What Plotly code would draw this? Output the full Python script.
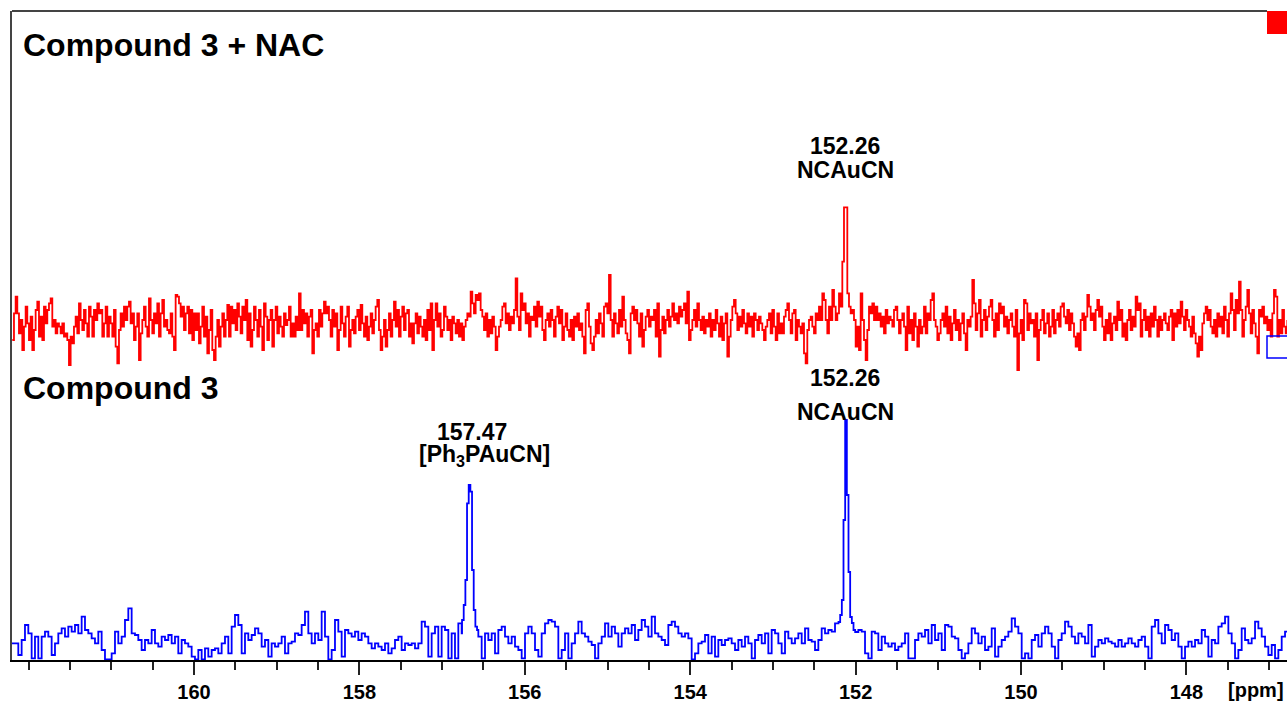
import numpy as np
import plotly.graph_objects as go

# ---------------- data (intensities in arbitrary units) ----------------
# spectrum digital resolution (ppm per point)
fine_step = 0.020153
coarse_step = 0.040306

# Compound 3 (blue) - noise segments and the two signals
blue_a_start = 162.205
blue_a = [50,50,15,60,105,80,5,70,5,70, 85,70,15,50,80,95,70,100,85,105,
          80,130,90,80,65,50,85,30,2,2, 20,85,50,70,120,155,80,75,60,30,
          60,50,90,50,40,70,60,75,50,70, 20,60,50,40,10,2,30,2,35,10,
          30,35,20,50,70,20,100,135,105,20, 80,60,75,95,80,40,60,10,50,40,
          50,70,20,50,55,80,75,105,145,80, 50,80,60,145,70,2,30,120,85,10,
          90,80,70,85,60,80,70,50,35,50, 40,30,50,20,35,60,70,30,50,45,
          50,35,50,115,100,10,
          80,100,10,100,90,5,80,5,110,80]
blue_p1_start = 156.759
blue_p1 = [120,165,240,470,525,505,270,150,100,90]
blue_b_start = 156.562
blue_b = [70,5,80,60,80,20,90,100,70,50, 70,40,30,5,80,100,80,30,10,80,
          110,120,115,100,5,30,80,5,50,80, 115,80,70,55,45,5,50,70,110,70,
          100,80,40,80,95,80,105,60,90,120, 100,70,130,80,70,60,45,105,115,100,
          80,70,80,65,2,20,50,55,75,20, 70,10,60,45,60,65,50,30,60,40,
          70,50,5,60,75,50,80,20,90,80, 50,20,85,65,50,65,80,50,95,60,
          55,30,60,95,80,90,85,110]
blue_p2_start = 152.207
blue_p2 = [114,135,180,420,720,495,264,129,111,90,84]
blue_c_start = 151.967
blue_c = [90,
          85,20,5,85,80,30,70,50,40,50, 30,40,50,80,5,5,60,80,70,90,
          50,105,60,80,30,105,100,70,65,30, 5,20,50,95,80,50,70,30,40,95,
          10,40,60,70,85,125,100,80,5,20, 5,60,75,40,80,100,80,40,5,60,
          80,115,100,70,50,80,70,50,105,10, 40,60,50,65,55,50,40,60,40,50,
          65,50,40,60,70,40,5,100,120,80, 50,105,90,60,80,40,5,40,55,40,
          60,50,90,70,10,60,50,100,110,130, 80,50,5,30,95,60,50,65,115,95,
          70,40,15,45,5,30,70,85,80]

# Compound 3 + NAC (red)
red_start = 162.197
red_a = [90,170,220,170,110,150,60,130,190,140, 90,160,60,120,180,205,100,160,90,190,
         140,180,200,215,130,150,110,140,130,110, 140,100,110,90,
         15,100,80,130,160,110,200,150,120,180, 140,100,190,160,100,180,150,200,170,180,
         100,140,190,100,160,140,100,180,70,20, 120,170,130,190,150,190,205,140,170,90,
         130,170,30,110,150,190,130,100,215,150, 110,170,140,200,100,170,210,130,150,120,
         110,170,100,60,225,220,200,160,190,120, 170,190,110,180,90,170,120,170,80,130,
         190,100,160,50,120,180,60,30,100,150, 70,130,170,100,150,195,100,190,140,180,
         120,200,160,110,190,150,210,90,170,70, 120,190,150,100,180,130,60,200,160,90,
         150,180,70,150,190,110,160,130,100,170, 135,150,190,100,140,100,160,120,230,120,
         180,140,170,100,160,180,50,120,140,100, 180,130,170,205,170,190,150,100,180,130,
         170,60,120,190,140,100,160,190,70,120, 150,110,160,180,120,195,140,100,160,90,
         130,170,110,150,190,210,120,60,100,150, 70,120,170,100,150,205,130,180,100,160,
         190,120,170,180,100,140,80,140,170,110, 160,130,100,150,90,180,120]
red_b = [200,60,150,200,130,170,100,120,190,160, 120,150,90,160,140,110,150,100,140,90,
         130,150,170,160,235,200,170,225,210,230, 180,160,120,170,100,150,110,160,130,60,
         100,130,150,190,200,140,170,120,160,140, 180,275,160,120,230,180,200,140,170,100,
         160,150,190,130,205,160,190,120,90,150, 170,130,180,150,100,160,190,140,180,90,
         130,170,120,100,150,90,160,130,170,120, 140,100,50,180,200,130,80,60,100,150,
         110,170,140,100,190,200,170,285,150,100, 170,140,110,180,130,220,150,110,90,50,
         170,190,150,180,140,100,170,70,120,160, 180,130,160,150,180,100,200,40,120,160,
         110,150,180,130,160,200,150,170,140,190, 160,180,200,140,235,90,120,150,180,130,
         200,150,120,160,110,150,130,170,100,150, 120,180,140,100,160,90,140,170,40,100,
         150,190,210,170,120,160,130,180,140,110, 170,130,160,100,170,150,120,160,140]
red_c = [120,90,130,150,170,110,180,130,90,170, 110,140,110,160,180,200,150,110,170,180,
         90,150,130,110,140,50,20,120,150,160, 130,110,170,150,190,150,230,210,150,110,
         190,150,240,190,150,170,230,190,325,488, 488,230,190,170,180,150,70,130,60,230,
         150,90,30,120,190,170,200,150,190,150, 170,130,160,110,180,140,160,150,130,180,
         190,150,110,150,170,130,60,190,110,150, 90,170,130,70,150,110,130,190,110,170,
         150,210,230,150,130,90,110,150]
red_d = [170,130,190,110,160,90,140,180,120,150, 90,140,170,110,60,150,130,160,270,200,
         120,170,210,100,150,180,120,160,190,210, 150,100,170,120,200,170,190,130,160,110,
         150,170,130,100,180,0,110,150,90,210, 200,120,170,140,150,100,170,30,120,150,
         180,110,140,170,100,130,180,110,150,170, 130,190,200,160,140,180,120,170,140,100,
         70,110,60,150,170,120,160,225,190,150, 170,120,180,210,160,190,130,90,150,110,
         170,90,140,160,120,205,150,180,100,140, 90,150,180,120,160,130,220,180,200,100,
         150,180,120,160,100,170,130,190,150,100, 160,120,150,170,140,120,160,180,90,170,
         130,180,140,205,160,120,180,150,130,100, 160,110,80,40,100,60,140,170,190,150,
         180,130,110,150,100,170,130,160,110,190, 150,100,170,230,180,120,210,170,265,180,
         100,150,190,240,170,110,180,140,100,50, 180,160,190,140,160,120,150,100,170,240,
         220,100,150,110,180,130,110,150]

tick_vals = [160, 158, 156, 154, 152, 150, 148]
tick_text = ["160", "158", "156", "154", "152", "150", "148"]
unlabelled_major = [162]

# ---------------- build ----------------
def grid(start, step, n):
    return start - step * np.arange(n)

blue_x = np.concatenate([
    grid(blue_a_start, coarse_step, len(blue_a)),
    grid(blue_p1_start, fine_step, len(blue_p1)),
    grid(blue_b_start, coarse_step, len(blue_b)),
    grid(blue_p2_start, fine_step, len(blue_p2)),
    grid(blue_c_start, coarse_step, len(blue_c)),
])
blue_y = np.array(blue_a + blue_p1 + blue_b + blue_p2 + blue_c, dtype=float)

red_y = np.array(red_a + red_b + red_c + red_d, dtype=float)
red_x = grid(red_start, fine_step, len(red_y))
red_offset = 870

FONT = "Liberation Sans, Arial, sans-serif"
X_RANGE = [162.2007, 146.784]

fig = go.Figure()
fig.add_trace(go.Scatter(x=blue_x, y=blue_y, mode="lines", line=dict(color="#0000FF", width=1.8, shape="hv"),
                         name="Compound 3", hoverinfo="skip"))
fig.add_trace(go.Scatter(x=red_x, y=red_y + red_offset, mode="lines", line=dict(color="#FF0000", width=1.8, shape="hv"),
                         name="Compound 3 + NAC", hoverinfo="skip"))

fig.update_layout(
    width=1287, height=704,
    margin=dict(l=12, r=0, t=11, b=44),
    plot_bgcolor="white", paper_bgcolor="white",
    showlegend=False,
    xaxis=dict(range=X_RANGE, tickmode="array", tickvals=tick_vals, ticktext=tick_text,
               ticks="outside", ticklen=13, tickwidth=1.5, tickcolor="#222",
               showline=True, linecolor="black", linewidth=1.5,
               showgrid=False, zeroline=False,
               tickfont=dict(family=FONT, size=20, color="black", weight="bold"),
               minor=dict(tickmode="linear", tick0=0, dtick=0.5, ticklen=8, ticks="outside",
                          tickcolor="#222", tickwidth=1.5, showgrid=False)),
    xaxis2=dict(range=X_RANGE, overlaying="x", anchor="y", side="bottom",
                tickmode="array", tickvals=unlabelled_major, showticklabels=False,
                ticks="outside", ticklen=13, tickwidth=1.5, tickcolor="#222",
                showline=False, showgrid=False, zeroline=False),
    yaxis=dict(range=[0, 1947], showline=True, linecolor="#444", linewidth=2,
               showticklabels=False, ticks="", showgrid=False, zeroline=False),
)

def px2x(px):
    return (px - 12) / 1275.0

def py2y(py):
    return (660 - py) / 649.0

fig.add_shape(type="line", xref="paper", yref="paper", x0=0, x1=px2x(1267), y0=1, y1=1,
              line=dict(color="#444", width=2))
fig.add_shape(type="rect", xref="paper", yref="paper", x0=px2x(1267), x1=1.02, y0=py2y(34), y1=1.0,
              fillcolor="#FF0000", line=dict(width=0))
fig.add_shape(type="rect", xref="paper", yref="paper", x0=px2x(1267), x1=1.02, y0=py2y(358), y1=py2y(336),
              line=dict(color="#0000FF", width=1.5))

def label(text, px, py, size, anchor="center"):
    fig.add_annotation(text=text, xref="paper", yref="paper", x=px2x(px), y=py2y(py),
                       xanchor=anchor, yanchor="middle", showarrow=False,
                       font=dict(family=FONT, size=size, color="black", weight="bold"))

label("Compound 3 + NAC", 21, 45, 32, "left")
label("Compound 3", 21, 388, 32, "left")
label("152.26", 845, 146, 23)
label("NCAuCN", 845, 170, 23)
label("152.26", 845, 378, 23)
label("NCAuCN", 845, 412, 23)
label("157.47", 472, 432, 23)
label("[Ph<sub>3</sub>PAuCN]", 484, 456, 23)
label("[ppm]", 1286, 690, 20, "right")

fig.write_html("out.html", config={"displayModeBar": False},
               post_script="document.body.style.margin='0';")
